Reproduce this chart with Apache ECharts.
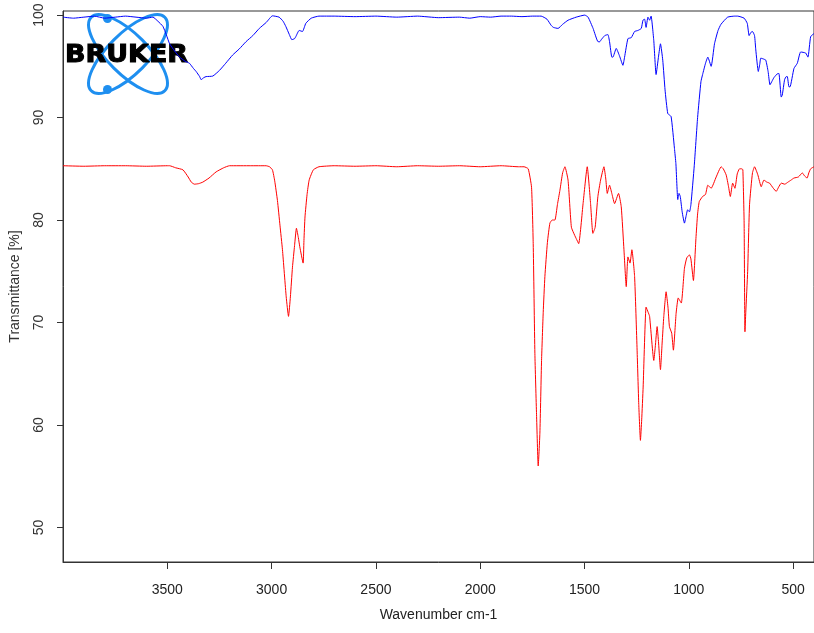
<!DOCTYPE html>
<html>
<head>
<meta charset="utf-8">
<title>IR spectra</title>
<script src="https://cdn.jsdelivr.net/npm/echarts@6/dist/echarts.min.js"></script>
<style>
  html, body { margin: 0; padding: 0; background: #fff; }
  #chart { width: 814px; height: 633px; }
</style>
</head>
<body>
<div id="chart"></div>
<script>
// Upper spectrum (blue): wavenumber [cm-1] and transmittance [%]
const blueWavenumber = [
  4000, 3950, 3900, 3850, 3800, 3750, 3700, 3650, 3600, 3569, 3545, 3521, 3505, 3489, 3465, 3441,
  3415, 3394, 3375, 3362, 3345, 3338, 3325, 3314, 3282, 3250, 3220, 3187, 3155, 3123, 3090, 3059,
  3025, 2996, 2964, 2945, 2932, 2915, 2903, 2890, 2884, 2868, 2852, 2836, 2810, 2773, 2700, 2600,
  2500, 2400, 2300, 2200, 2100, 2050, 2000, 1950, 1900, 1850, 1800, 1750, 1708, 1680, 1660, 1649,
  1627, 1605, 1579, 1540, 1499, 1483, 1459, 1435, 1427, 1420, 1403, 1388, 1380, 1369, 1364, 1348,
  1332, 1316, 1308, 1292, 1276, 1260, 1244, 1228, 1220, 1212, 1205, 1196, 1188, 1181, 1168, 1157,
  1145, 1136, 1125, 1114, 1101, 1085, 1069, 1062, 1053, 1047, 1041, 1032, 1021, 1012, 1006, 997,
  990, 974, 958, 942, 934, 920, 909, 893, 877, 860, 846, 814, 780, 766, 735, 720,
  711, 703, 695, 685, 679, 667, 660, 655, 640, 631, 620, 611, 600, 592, 573, 568,
  557, 552, 541, 533, 528, 520, 515, 496, 480, 464, 440, 429, 416, 400
];
const blueTransmittance = [
  99.8, 99.7, 99.8, 99.9, 99.7, 99.8, 99.9, 99.8, 99.7, 99.8, 99.4, 98.9, 98.1, 97.2, 96.5, 95.9,
  95.5, 95.3, 94.8, 94.5, 94.0, 93.7, 93.9, 94.0, 94.05, 94.6, 95.3, 96.1, 96.7, 97.4, 98.0, 98.7,
  99.3, 99.93, 99.8, 99.4, 98.9, 98.1, 97.6, 97.7, 97.9, 98.5, 98.4, 99.2, 99.7, 99.9, 99.9, 99.85,
  99.9, 99.8, 99.9, 99.75, 99.8, 99.7, 99.85, 99.8, 99.9, 99.9, 99.85, 99.9, 99.9, 99.6, 99.0, 98.8,
  98.7, 99.1, 99.5, 99.8, 100.0, 99.8, 98.7, 97.4, 97.4, 97.6, 98.0, 98.1, 97.4, 95.9, 95.9, 96.75,
  96.0, 95.1, 95.9, 97.7, 97.8, 98.4, 98.5, 98.7, 99.5, 99.6, 98.8, 99.8, 99.5, 99.9, 97.5, 94.2,
  96.0, 97.2, 95.6, 92.7, 90.4, 90.1, 87.0, 85.5, 82.0, 82.6, 82.3, 80.8, 79.7, 80.5, 81.0, 80.8,
  81.5, 85.3, 90.0, 93.5, 94.2, 95.3, 95.9, 95.0, 97.2, 98.5, 99.1, 99.8, 99.9, 99.9, 99.7, 99.2,
  98.0, 98.3, 98.4, 98.0, 96.6, 94.5, 95.2, 95.8, 95.7, 95.6, 94.5, 93.2, 93.6, 93.9, 94.3, 94.3,
  92.0, 92.2, 93.7, 94.0, 94.0, 93.0, 93.0, 94.8, 95.3, 96.4, 96.3, 95.9, 97.9, 98.2
];

// Lower spectrum (red): wavenumber [cm-1] and transmittance [%]
const redWavenumber = [
  4000, 3900, 3800, 3700, 3600, 3500, 3489, 3460, 3425, 3400, 3385, 3370, 3350, 3330, 3300, 3266,
  3230, 3202, 3100, 3027, 3010, 2996, 2985, 2972, 2960, 2948, 2930, 2919, 2910, 2900, 2890, 2881,
  2872, 2865, 2849, 2845, 2840, 2830, 2820, 2800, 2773, 2700, 2600, 2500, 2400, 2300, 2200, 2100,
  2000, 1900, 1817, 1790, 1770, 1754, 1746, 1738, 1730, 1722, 1714, 1706, 1698, 1690, 1678, 1666,
  1655, 1642, 1630, 1618, 1605, 1594, 1579, 1563, 1547, 1540, 1528, 1507, 1487, 1471, 1460, 1449,
  1436, 1423, 1407, 1398, 1391, 1380, 1368, 1356, 1337, 1324, 1311, 1300, 1292, 1282, 1273, 1260,
  1248, 1240, 1232, 1226, 1219, 1205, 1195, 1188, 1168, 1161, 1152, 1145, 1136, 1128, 1120, 1109,
  1100, 1093, 1082, 1074, 1061, 1051, 1045, 1036, 1021, 1010, 997, 990, 978, 966, 958, 950,
  934, 920, 909, 893, 869, 845, 835, 821, 810, 801, 790, 779, 768, 757, 745, 741,
  735, 731, 727, 718, 709, 695, 685, 669, 653, 640, 626, 613, 595, 581, 570, 557,
  540, 525, 510, 496, 475, 456, 445, 433, 425, 416, 400
];
const redTransmittance = [
  85.3, 85.25, 85.3, 85.3, 85.25, 85.3, 85.3, 85.1, 84.9, 84.2, 83.7, 83.5, 83.55, 83.7, 84.1, 84.7,
  85.1, 85.3, 85.3, 85.3, 85.2, 84.9, 83.8, 81.9, 79.5, 77.1, 72.5, 70.6, 72.5, 75.4, 77.5, 79.2,
  78.3, 77.4, 75.8, 78.0, 80.3, 82.5, 83.9, 84.9, 85.2, 85.3, 85.25, 85.3, 85.2, 85.3, 85.25, 85.3,
  85.2, 85.3, 85.2, 85.2, 85.0, 83.2, 77.7, 67.0, 61.0, 56.0, 59.2, 66.3, 71.0, 74.5, 77.8, 79.7,
  80.0, 80.0, 81.5, 82.9, 84.6, 85.2, 83.9, 79.3, 78.5, 78.2, 77.7, 81.6, 85.2, 81.6, 78.7, 79.3,
  82.3, 83.9, 85.2, 84.0, 82.6, 83.4, 82.5, 81.6, 82.6, 81.3, 77.1, 73.5, 76.4, 75.8, 77.1, 74.5,
  67.3, 62.0, 58.5, 60.5, 63.7, 71.5, 71.0, 70.6, 66.3, 67.6, 69.6, 68.0, 65.4, 68.0, 70.6, 73.0,
  71.5, 69.6, 68.95, 67.3, 70.9, 72.4, 72.2, 71.9, 75.3, 76.3, 76.6, 76.2, 74.1, 78.2, 80.6, 81.8,
  82.3, 82.5, 83.4, 83.1, 84.2, 85.2, 85.0, 84.4, 83.3, 82.3, 83.6, 83.1, 84.5, 85.0, 85.0, 84.9,
  79.8, 69.1, 71.0, 75.0, 81.5, 84.6, 85.2, 84.4, 83.25, 83.9, 83.7, 83.6, 83.1, 82.8, 83.2, 83.6,
  83.5, 83.7, 83.9, 84.1, 84.2, 84.6, 84.3, 84.1, 84.6, 85.0, 85.2
];

// Axis tick positions
const xTicks = [500, 1000, 1500, 2000, 2500, 3000, 3500];
const yTicks = [50, 60, 70, 80, 90, 100];

const pairs = (xs, ys) => xs.map((x, i) => [x, ys[i]]);

const chart = echarts.init(document.getElementById('chart'), null, { renderer: 'canvas' });

const font = '"Liberation Sans", Arial, sans-serif';
const logoBlue = '#1e8ff0';

chart.setOption({
  animation: false,
  backgroundColor: '#ffffff',
  grid: {
    left: 63, right: -3, top: 11, bottom: 71,
    show: true, borderColor: '#333', borderWidth: 1
  },
  xAxis: {
    type: 'value',
    inverse: true,
    min: 400, max: 4000,
    name: 'Wavenumber cm-1',
    nameLocation: 'middle',
    nameGap: 46,
    nameTextStyle: { fontFamily: font, fontSize: 14, color: '#222' },
    axisLine: { show: true, onZero: false, lineStyle: { color: '#333', width: 1 } },
    axisTick: { show: true, length: 7, customValues: xTicks, lineStyle: { color: '#333' } },
    axisLabel: {
      customValues: xTicks, fontFamily: font, fontSize: 14, color: '#222', margin: 21,
      formatter: (v) => String(v)
    },
    splitLine: { show: false }
  },
  yAxis: {
    type: 'value',
    min: 46.63, max: 100.4,
    name: 'Transmittance [%]',
    nameLocation: 'middle',
    nameGap: 41,
    nameTextStyle: { fontFamily: font, fontSize: 14, color: '#333' },
    axisLine: { show: true, onZero: false, lineStyle: { color: '#333', width: 1 } },
    axisTick: { show: true, length: 6, customValues: yTicks, lineStyle: { color: '#333' } },
    axisLabel: {
      customValues: yTicks, rotate: 90, fontFamily: font, fontSize: 14, color: '#333', margin: 17,
      formatter: (v) => String(v)
    },
    splitLine: { show: false }
  },
  series: [
    {
      type: 'line',
      data: pairs(blueWavenumber, blueTransmittance),
      showSymbol: false,
      smooth: 0.15,
      lineStyle: { color: '#0000ff', width: 1 },
      z: 3
    },
    {
      type: 'line',
      data: pairs(redWavenumber, redTransmittance),
      showSymbol: false,
      smooth: 0.15,
      lineStyle: { color: '#ff0000', width: 1 },
      z: 3
    }
  ],
  graphic: [
    {
      type: 'group',
      z: 100,
      children: [
        {
          type: 'ellipse', x: 128, y: 54, rotation: Math.PI / 4,
          shape: { cx: 0, cy: 0, rx: 52, ry: 20 },
          style: { fill: 'none', stroke: logoBlue, lineWidth: 3 }
        },
        {
          type: 'ellipse', x: 128, y: 54, rotation: -Math.PI / 4,
          shape: { cx: 0, cy: 0, rx: 52, ry: 20 },
          style: { fill: 'none', stroke: logoBlue, lineWidth: 3 }
        },
        {
          type: 'circle', shape: { cx: 107.5, cy: 18.5, r: 4.5 },
          style: { fill: logoBlue }
        },
        {
          type: 'circle', shape: { cx: 107.5, cy: 89.5, r: 4.5 },
          style: { fill: logoBlue }
        },
        {
          type: 'text', x: 126.5, y: 56, scaleX: 1.12,
          style: {
            text: 'BRUKER',
            font: 'bold 24px "DejaVu Sans", sans-serif',
            fill: '#000', stroke: '#000', lineWidth: 1,
            textAlign: 'center', textVerticalAlign: 'middle',
            textShadowColor: 'rgba(0,0,0,0.35)', textShadowOffsetX: 1.5, textShadowOffsetY: 1.5, textShadowBlur: 0
          }
        }
      ]
    }
  ]
});
</script>
</body>
</html>
